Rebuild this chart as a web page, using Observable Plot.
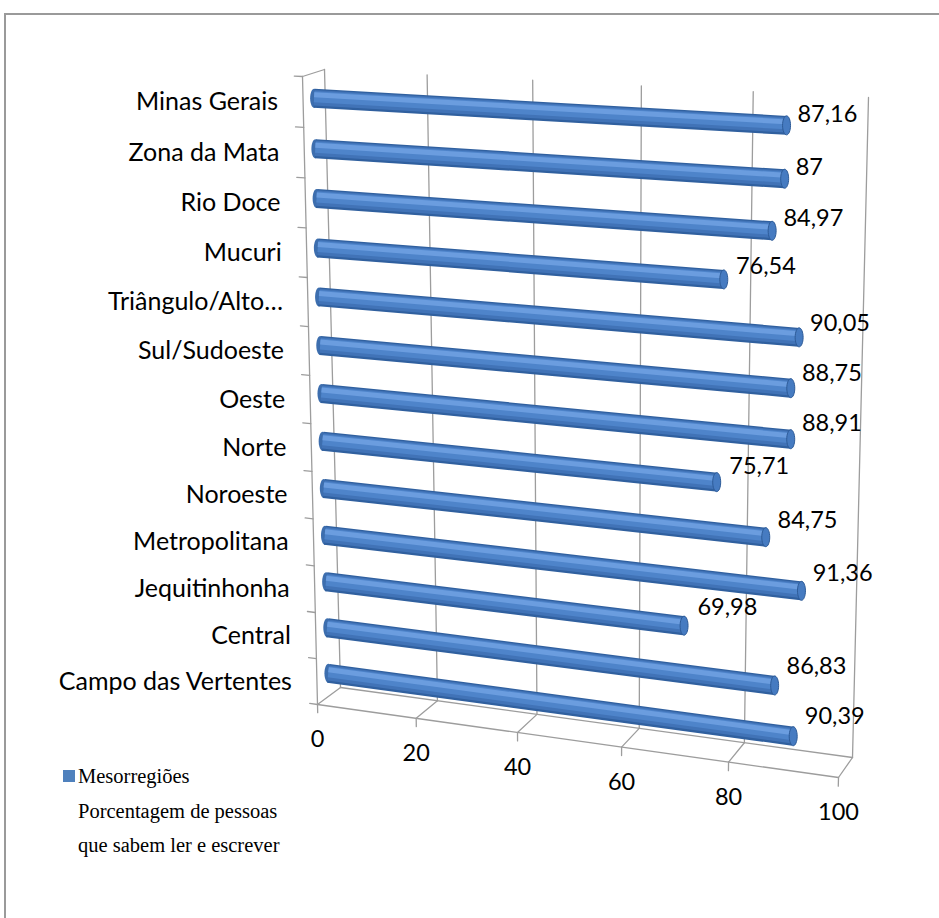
<!DOCTYPE html>
<html>
<head>
<meta charset="utf-8">
<script src="https://cdn.jsdelivr.net/npm/d3@7"></script>
<script src="https://cdn.jsdelivr.net/npm/@observablehq/plot@0.6"></script>
<style>
  html, body { margin: 0; padding: 0; background: #fff; overflow: hidden; }
  #chart { position: relative; width: 939px; height: 918px; }
  #chart svg { position: absolute; left: 0; top: 0; }
  #frame { position: absolute; left: 4px; top: 13px; width: 1000px; height: 1000px;
           border-top: 2px solid #9a9a9a; border-left: 2px solid #9a9a9a; pointer-events: none; }
  #legend { position: absolute; left: 78px; top: 759px; font: 20.5px "Liberation Serif", "Times New Roman", serif;
            line-height: 34.5px; color: #000; white-space: pre-line; }
  #legend .swatch { position: absolute; left: -15px; top: 11px; width: 12px; height: 12px; }
</style>
</head>
<body>
<div id="chart"><div id="frame"></div><div id="legend"></div></div>
<script>
// Literacy rate by mesoregion of Minas Gerais (top to bottom as drawn)
const regions = [
  "Minas Gerais", "Zona da Mata", "Rio Doce", "Mucuri", "Triângulo/Alto…",
  "Sul/Sudoeste", "Oeste", "Norte", "Noroeste", "Metropolitana",
  "Jequitinhonha", "Central", "Campo das Vertentes"
];
const literacy = [87.16, 87, 84.97, 76.54, 90.05, 88.75, 88.91, 75.71, 84.75, 91.36, 69.98, 86.83, 90.39];
const valueTicks = [0, 20, 40, 60, 80, 100];
const seriesName = "Mesorregiões\nPorcentagem de pessoas\nque sabem ler e escrever";
const seriesColor = "#4f81bd";

const ROWS = regions.length;
const MAX = 100;

// Pixel corners of the 3-D box: (value 0,row 0), (max,0), (max,ROWS), (0,ROWS)
const box = {
  back:  [[324, 69], [868, 97], [852, 757], [340, 687]],
  front: [[302, 76], [855, 107], [838, 777], [317, 704]]
};
const SERIES_DEPTH = 0.5;   // cylinders run midway between front edge (0) and back wall (1)
const LABEL_DEPTH = 1.55;   // data labels float just behind the back wall

// Perspective map of the unit square onto a quadrilateral
function quad([[x0, y0], [x1, y1], [x2, y2], [x3, y3]]) {
  const dx1 = x1 - x2, dx2 = x3 - x2, dx3 = x0 - x1 + x2 - x3;
  const dy1 = y1 - y2, dy2 = y3 - y2, dy3 = y0 - y1 + y2 - y3;
  const det = dx1 * dy2 - dx2 * dy1;
  const g = (dx3 * dy2 - dx2 * dy3) / det;
  const h = (dx1 * dy3 - dx3 * dy1) / det;
  const a = x1 - x0 + g * x1, b = x3 - x0 + h * x3;
  const d = y1 - y0 + g * y1, e = y3 - y0 + h * y3;
  return (u, v) => {
    const w = g * u + h * v + 1;
    return [(a * u + b * v + x0) / w, (d * u + e * v + y0) / w];
  };
}
const backWall = quad(box.back), frontEdge = quad(box.front);

function place(value, row, depth = SERIES_DEPTH) {
  const u = value / MAX, v = row / ROWS;
  const [fx, fy] = frontEdge(u, v), [bx, by] = backWall(u, v);
  return [fx + (bx - fx) * depth, fy + (by - fy) * depth];
}

// Plot projection: (value, row[, depth]) -> screen
const projection = d3.geoTransform({
  point(value, row, depth) {
    const [x, y] = place(value, row, depth ?? SERIES_DEPTH);
    this.stream.point(x, y);
  }
});

const line3 = (...coordinates) => ({type: "LineString", coordinates});

const bars = regions.map((name, i) => ({name, value: literacy[i], row: i + 0.5}));
const fmt = (v) => String(v).replace(".", ",");

// Text marks only carry (x, y); re-place them on the depth they belong to.
function textAt(data, {value, row, depth, ...options}) {
  const V = data.map(value), R = data.map(row);
  return Plot.text(data, {
    ...options,
    x: V,
    y: R,
    render(index, scales, values, dimensions, context, next) {
      const X = Float64Array.from(values.x), Y = Float64Array.from(values.y);
      for (const i of index) [X[i], Y[i]] = place(V[i], R[i], depth);
      return next(index, scales, {...values, x: X, y: Y}, dimensions, context);
    }
  });
}

// Elliptical end of a cylinder seen slightly from the side
const capSymbol = {
  draw(ctx, size) {
    const ry = Math.sqrt(size / Math.PI), rx = ry * 0.42, k = 0.5523;
    ctx.moveTo(rx, 0);
    ctx.bezierCurveTo(rx, k * ry, k * rx, ry, 0, ry);
    ctx.bezierCurveTo(-k * rx, ry, -rx, k * ry, -rx, 0);
    ctx.bezierCurveTo(-rx, -k * ry, -k * rx, -ry, 0, -ry);
    ctx.bezierCurveTo(k * rx, -ry, rx, -k * ry, rx, 0);
    ctx.closePath();
  }
};

const grid = "#9d9d9d";
const body = (d) => line3([0, d.row, SERIES_DEPTH], [d.value, d.row, SERIES_DEPTH]);

const chart = Plot.plot({
  width: 939,
  height: 918,
  margin: 0,
  projection,
  style: {fontFamily: "Lato, 'Open Sans', sans-serif", fontSize: "20px", color: "#000", background: "transparent"},
  marks: [
    // back wall gridlines and its bottom edge
    Plot.geo(valueTicks, {geometry: (v) => line3([v, 0, 1], [v, ROWS, 1]), stroke: grid, strokeWidth: 1.3}),
    Plot.geo([0], {geometry: () => line3([0, ROWS, 1], [MAX, ROWS, 1]), stroke: grid, strokeWidth: 1.3}),
    // floor: edges running from the back wall to the front edge
    Plot.geo(valueTicks, {geometry: (v) => line3([v, ROWS, 1], [v, ROWS, 0]), stroke: grid, strokeWidth: 1.3}),
    Plot.geo([0], {geometry: () => line3([0, ROWS, 0], [MAX, ROWS, 0]), stroke: grid, strokeWidth: 1.3}),
    // category axis on the front edge, joined to the back wall at the top
    Plot.geo([0], {geometry: () => line3([0, 0, 0], [0, ROWS, 0]), stroke: grid, strokeWidth: 1.3}),
    Plot.geo([0], {geometry: () => line3([0, 0, 1], [0, 0, 0]), stroke: grid, strokeWidth: 1.3}),
    Plot.geo(d3.range(ROWS + 1), {geometry: (r) => line3([0, r, 0], [-1.6, r, 0]), stroke: grid, strokeWidth: 1.3}),
    Plot.geo(valueTicks, {geometry: (v) => line3([v, ROWS, 0], [v, ROWS + 0.18, 0]), stroke: grid, strokeWidth: 1.3}),

    // cylinders: hidden start cap, shaded body, visible end cap
    Plot.dot(bars, {x: () => 0, y: "row", symbol: capSymbol, r: 9.5, fill: "#3d6eae"}),
    Plot.geo(bars, {geometry: body, stroke: "#30609f", strokeWidth: 19, strokeLinecap: "butt"}),
    Plot.geo(bars, {geometry: body, stroke: "#4173b7", strokeWidth: 15.5, strokeLinecap: "butt", dy: -0.5}),
    Plot.geo(bars, {geometry: body, stroke: "#4e84ca", strokeWidth: 11, strokeLinecap: "butt", dy: -1.5}),
    Plot.geo(bars, {geometry: body, stroke: "#6b9ddf", strokeWidth: 5, strokeLinecap: "butt", dy: -3.5}),
    Plot.dot(bars, {x: "value", y: "row", symbol: capSymbol, r: 9.5, fill: "#467bc1", stroke: "#2d5b98", strokeWidth: 1}),

    // category names, value axis labels and data labels
    textAt(bars, {value: () => 0, row: (d) => d.row, depth: 0, text: "name", textAnchor: "end", dx: -25, fontSize: 25}),
    textAt(valueTicks, {value: (v) => v, row: () => ROWS, depth: 0, text: (v) => String(v), dy: 35, fontSize: 23.5}),
    textAt(bars, {value: (d) => d.value, row: (d) => d.row, depth: LABEL_DEPTH, text: (d) => fmt(d.value), textAnchor: "start", dx: -4, fontSize: 23.5})
  ]
});

const host = document.getElementById("chart");
host.insertBefore(chart, host.firstChild);

const legend = document.getElementById("legend");
const swatch = document.createElement("span");
swatch.className = "swatch";
swatch.style.background = seriesColor;
legend.append(swatch, seriesName);
</script>
</body>
</html>
